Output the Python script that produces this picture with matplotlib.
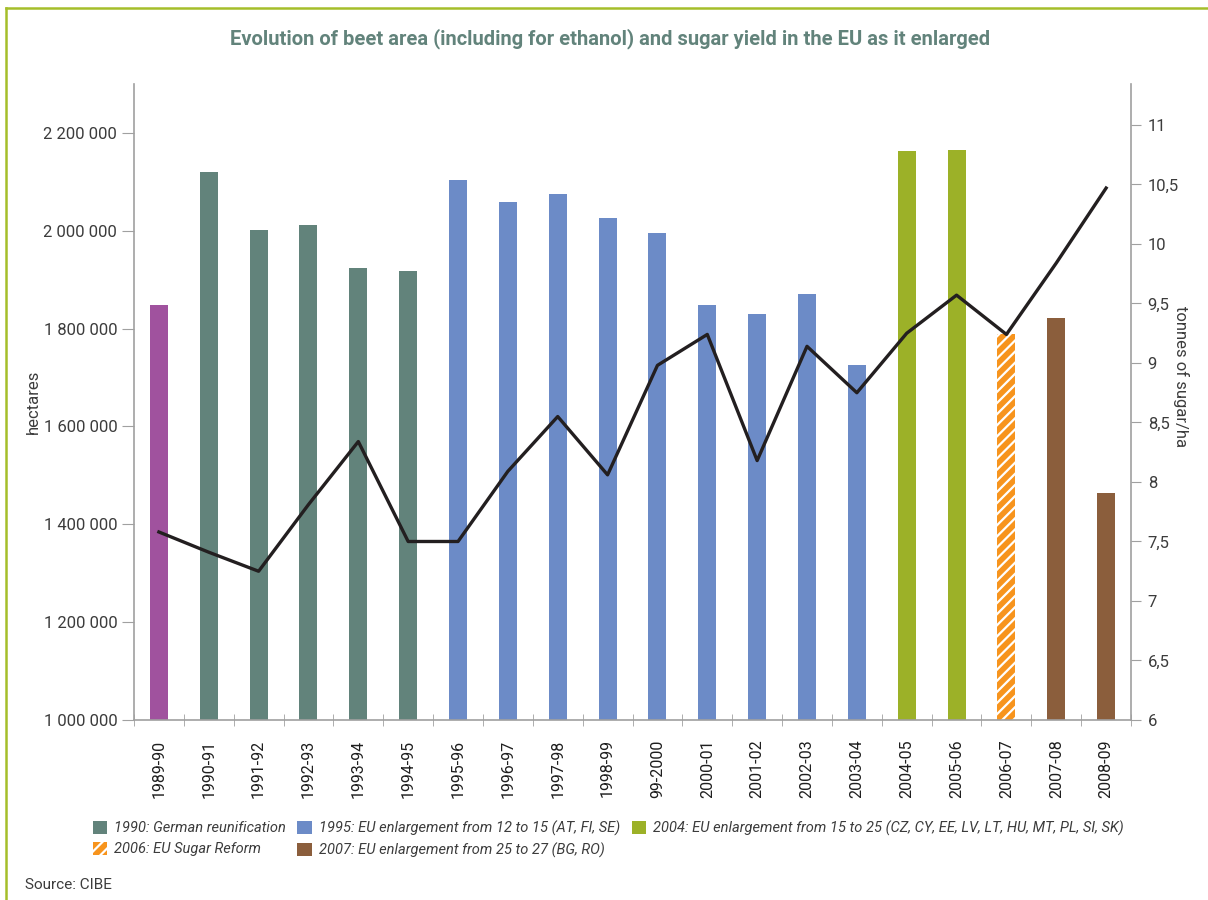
import numpy as np
import matplotlib.pyplot as plt
from matplotlib.patches import Patch
from matplotlib.lines import Line2D
from matplotlib.ticker import FuncFormatter

plt.rcParams['font.family'] = ['Roboto', 'DejaVu Sans']
plt.rcParams['hatch.linewidth'] = 1.6

# Data
seasons = ["1989-90", "1990-91", "1991-92", "1992-93", "1993-94", "1994-95",
           "1995-96", "1996-97", "1997-98", "1998-99", "99-2000", "2000-01",
           "2001-02", "2002-03", "2003-04", "2004-05", "2005-06", "2006-07",
           "2007-08", "2008-09"]
beet_area = [1849000, 2121000, 2002000, 2012000, 1924000, 1918000,
             2104000, 2059000, 2076000, 2027000, 1996000, 1849000,
             1830000, 1871000, 1726000, 2164000, 2166000, 1789000,
             1822000, 1464000]
sugar_yield = [7.58, 7.41, 7.25, 7.81, 8.34, 7.50,
               7.50, 8.09, 8.55, 8.06, 8.98, 9.24,
               8.18, 9.14, 8.75, 9.25, 9.57, 9.24,
               9.84, 10.47]
period = ["1989", "1990", "1990", "1990", "1990", "1990",
          "1995", "1995", "1995", "1995", "1995", "1995",
          "1995", "1995", "1995", "2004", "2004", "2006",
          "2007", "2007"]

period_colors = {
    "1989": "#A0529E",
    "1990": "#62837B",
    "1995": "#6C8BC7",
    "2004": "#9CB128",
    "2006": "#F7941D",
    "2007": "#8B5E3C",
}
legend_labels = {
    "1990": "1990: German reunification",
    "2006": "2006: EU Sugar Reform",
    "1995": "1995: EU enlargement from 12 to 15 (AT, FI, SE)",
    "2007": "2007: EU enlargement from 25 to 27 (BG, RO)",
    "2004": "2004: EU enlargement from 15 to 25 (CZ, CY, EE, LV, LT, HU, MT, PL, SI, SK)",
}

axis_grey = "#A0A0A0"
text_grey = "#3C3C3C"

fig = plt.figure(figsize=(12.08, 9.0), dpi=100)
ax = fig.add_axes([0.1109, 0.2, 0.8254, 0.7067])

x = np.arange(len(seasons))
for i in x:
    p = period[i]
    if p == "2006":
        ax.bar(i, beet_area[i] - 1000000, bottom=1000000, width=0.36,
               color=period_colors[p], edgecolor="white", hatch="///",
               linewidth=0, zorder=2)
    else:
        ax.bar(i, beet_area[i] - 1000000, bottom=1000000, width=0.36,
               color=period_colors[p], linewidth=0, zorder=2)

ax.set_xlim(-0.5, len(seasons) - 0.5)
ax.set_ylim(1000000, 2300000)
ax.set_yticks(np.arange(1000000, 2200001, 200000))
ax.yaxis.set_major_formatter(FuncFormatter(lambda v, pos: f"{int(v):,}".replace(",", " ")))
ax.set_xticks(x)
ax.set_xticklabels(seasons, rotation=90, fontsize=11.5, color="#1E1E1E")
ax.set_xticks(np.arange(-0.5, len(seasons), 1.0), minor=True)
ax.tick_params(axis="x", which="major", length=0, pad=14)
ax.tick_params(axis="x", which="minor", length=9, direction="inout", color=axis_grey)
ax.tick_params(axis="y", length=9, color=axis_grey, labelsize=12, labelcolor=text_grey, pad=3)
ax.set_ylabel("hectares", fontsize=12, color=text_grey, labelpad=2)

for s in ["left", "bottom"]:
    ax.spines[s].set_color(axis_grey)
    ax.spines[s].set_linewidth(1.2)
ax.spines["top"].set_visible(False)
ax.spines["right"].set_visible(False)

ax2 = ax.twinx()
ax2.plot(x, sugar_yield, color="#231F20", linewidth=2.4, zorder=3)
ax2.set_ylim(6, 6 + 636 / 119)
ax2.set_yticks(np.arange(6, 11.01, 0.5))
ax2.yaxis.set_major_formatter(FuncFormatter(lambda v, pos: f"{v:g}".replace(".", ",")))
ax2.tick_params(axis="y", length=7, color=axis_grey, labelsize=12, labelcolor=text_grey, pad=5)
ax2.set_ylabel("tonnes of sugar/ha", fontsize=12, color=text_grey, rotation=270, labelpad=9)
ax2.yaxis.set_label_coords(1.058, 0.54)
ax2.spines["right"].set_color(axis_grey)
ax2.spines["right"].set_linewidth(1.2)
for s in ["left", "top", "bottom"]:
    ax2.spines[s].set_visible(False)

fig.text(0.505, 0.957, "Evolution of beet area (including for ethanol) and sugar yield in the EU as it enlarged",
         ha="center", va="center", fontsize=14.5, fontweight="bold", color="#62837B")

handles = []
for key in ["1990", "2006", "1995", "2007", "2004"]:
    if key == "2006":
        handles.append(Patch(facecolor=period_colors[key], edgecolor="white", hatch="///",
                             linewidth=0, label=legend_labels[key]))
    else:
        handles.append(Patch(facecolor=period_colors[key], linewidth=0, label=legend_labels[key]))
leg = fig.legend(handles=handles, ncol=3, loc="upper left", bbox_to_anchor=(0.072, 0.095),
                 frameon=False, handlelength=1.0, handleheight=1.0, handletextpad=0.45,
                 columnspacing=0.8, labelspacing=0.45, borderaxespad=0,
                 prop={"style": "italic", "size": 10.5})
for t in leg.get_texts():
    t.set_color(text_grey)

fig.text(0.021, 0.017, "Source: CIBE", fontsize=11, color=text_grey, ha="left", va="center")

frame = "#A5BE2A"
fig.add_artist(Line2D([0.005, 0.005], [0, 0.991], color=frame, linewidth=1.8))
fig.add_artist(Line2D([0.005, 1], [0.991, 0.991], color=frame, linewidth=1.8))

fig.savefig("out.png", dpi=100)
